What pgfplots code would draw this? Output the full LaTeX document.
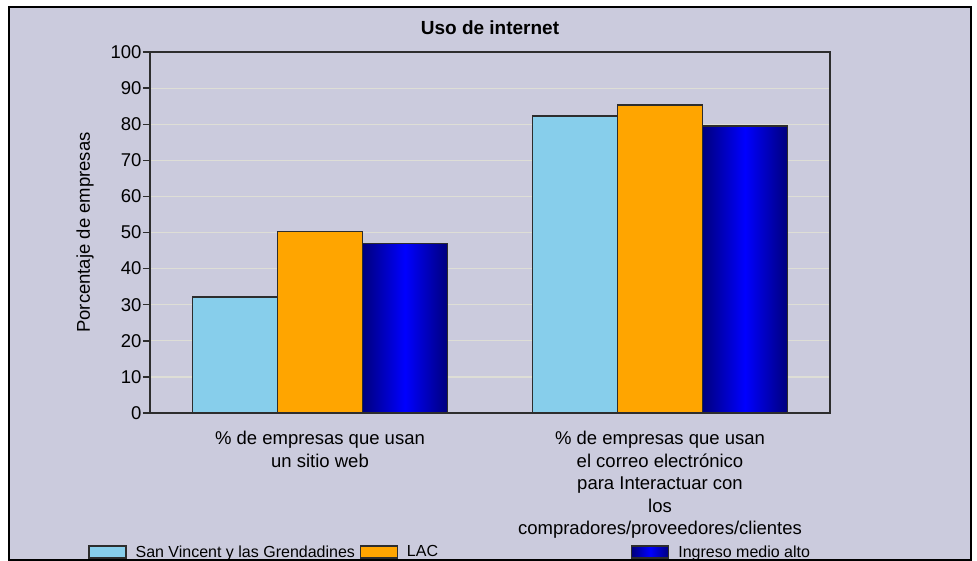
\documentclass[border=0pt]{standalone}
\usepackage{pgfplots}
\pgfplotsset{compat=1.18}
\usepackage{fontspec}
\setmainfont{Liberation Sans}
\definecolor{bgc}{RGB}{203,203,221}
\definecolor{gridc}{RGB}{222,222,214}
\definecolor{skyb}{RGB}{135,206,235}
\definecolor{orng}{RGB}{255,165,0}
\definecolor{navyl}{RGB}{0,0,125}
\definecolor{brblue}{RGB}{0,0,255}
\definecolor{axc}{RGB}{45,45,45}
\newcommand\ff{\fontsize{18.5bp}{22.5bp}\selectfont}
\pgfplotsset{mylegend/.style={legend image code/.code={\draw[##1, line width=1.4bp] (0bp,-6bp) rectangle (37bp,6bp); \path (46bp,0bp);}},
  bluebar/.style={draw=axc, line width=1.4bp, left color=navyl, right color=navyl, middle color=brblue, bar shift=0.25, mylegend}}
\begin{document}
\begin{tikzpicture}
\fill[white] (0bp,0bp) rectangle (977bp,-561bp);
\useasboundingbox (0bp,0bp) rectangle (977bp,-561bp);
\fill[bgc] (9bp,-7bp) rectangle (971bp,-561bp);
\begin{axis}[
  at={(150bp,-413bp)}, anchor=south west,
  scale only axis, width=680bp, height=361bp,
  ybar=0pt, bar width=0.25,
  xmin=-0.5, xmax=1.5, ymin=0, ymax=100,
  xtick={0,1},
  xticklabels={{\% de empresas que usan\\un sitio web},{\% de empresas que usan\\el correo electrónico\\para Interactuar con\\los\\compradores/proveedores/clientes}},
  xticklabel style={align=center, font=\ff, anchor=north, yshift=-8bp},
  x tick style={draw=none},
  ytick={0,10,...,100},
  ytick pos=left,
  tick align=outside,
  major tick length=7bp,
  y tick style={axc, line width=1.4bp},
  yticklabel style={font=\ff, xshift=2bp},
  /pgf/number format/assume math mode=true,
  ymajorgrids, major grid style={gridc, line width=1.2bp},
  axis line style={axc, line width=1.6bp},
  title={Uso de internet},
  title style={font=\fontsize{19bp}{22bp}\selectfont\bfseries, at={(0.5,1.050)}, anchor=center},
  ylabel={Porcentaje de empresas},
  every axis y label/.style={at={(axis description cs:-0.0956,0.5)}, rotate=90, anchor=center, font=\ff},
  legend columns=3,
  legend style={at={(axis description cs:-0.0912,-0.385)}, anchor=west, draw=none, fill=none, inner sep=0pt, column sep=0pt, font=\fontsize{16bp}{19bp}\selectfont, nodes={inner sep=0pt}},
]
\addplot[draw=axc, line width=1.4bp, fill=skyb, bar shift=-0.25, mylegend] coordinates {(0,32.1) (1,82.3)};
\addlegendentry{\makebox[224bp][l]{San Vincent y las Grendadines}}
\addplot[draw=axc, line width=1.4bp, fill=orng, bar shift=0, mylegend] coordinates {(0,50.2) (1,85.3)};
\addlegendentry{\makebox[224bp][l]{LAC}}
\addplot[bluebar] coordinates {(0,46.9)};
\addlegendentry{Ingreso medio alto}
\addplot[bluebar, forget plot] coordinates {(1,79.5)};
\end{axis}
\draw[black, line width=2.5bp] (9bp,-7bp) -- (971bp,-7bp) -- (971bp,-560bp) -- (9bp,-560bp) -- cycle;
\end{tikzpicture}
\end{document}
